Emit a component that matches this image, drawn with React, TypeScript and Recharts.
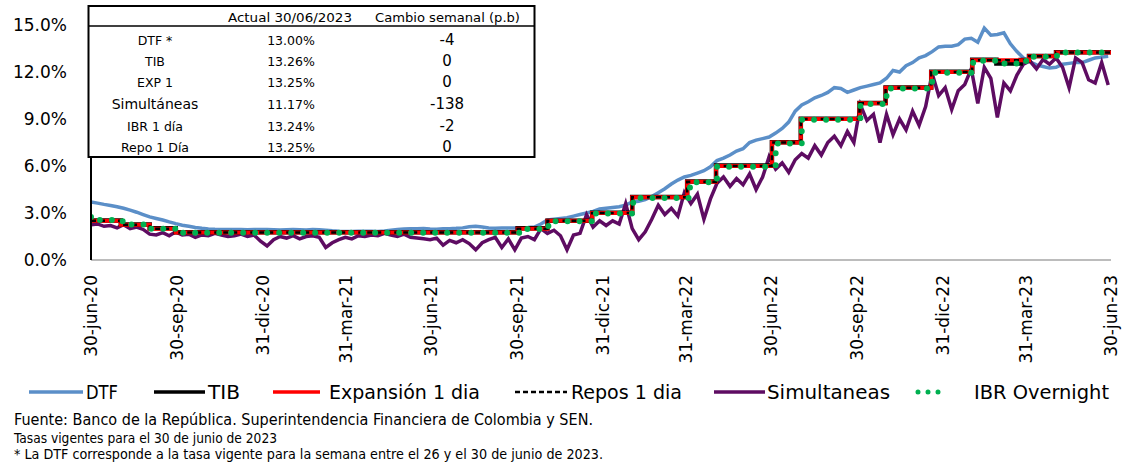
import { LineChart, Line, XAxis, YAxis, Legend } from "recharts";

const START = "2020-06-30";

const tickDates = [
  "2020-06-30", "2020-09-30", "2020-12-31", "2021-03-31", "2021-06-30", "2021-09-30", "2021-12-31",
  "2022-03-31", "2022-06-30", "2022-09-30", "2022-12-31", "2023-03-31", "2023-06-30",
];
const tickLabels = [
  "30-jun-20", "30-sep-20", "31-dic-20", "31-mar-21", "30-jun-21", "30-sep-21", "31-dic-21",
  "31-mar-22", "30-jun-22", "30-sep-22", "31-dic-22", "31-mar-23", "30-jun-23",
];
const yTicks = [0, 3, 6, 9, 12, 15];

// weekly observations from 30-jun-2020
const dtfWeekly = [
  3.7, 3.63, 3.55, 3.48, 3.4, 3.3, 3.18, 3.05, 2.9, 2.75,
  2.65, 2.55, 2.43, 2.32, 2.22, 2.15, 2.08, 2.02, 1.98, 1.96,
  1.95, 1.95, 1.94, 1.95, 1.93, 1.94, 1.95, 1.94, 1.93, 1.92,
  1.93, 1.94, 1.93, 1.92, 1.95, 1.93, 1.9, 1.86, 1.83, 1.82,
  1.82, 1.83, 1.84, 1.83, 1.82, 1.85, 1.9, 1.95, 1.98, 2.0,
  2.0, 2.01, 1.98, 1.97, 1.99, 2.0, 2.02, 2.05, 2.12, 2.15,
  2.1, 2.05, 2.03, 2.04, 2.05, 2.04, 2.05, 2.07, 2.1, 2.3,
  2.55, 2.6, 2.65, 2.7, 2.8, 2.9, 3.0, 3.1, 3.25, 3.3,
  3.35, 3.4, 3.5, 3.7, 3.75, 3.85, 4.05, 4.3, 4.55, 4.85,
  5.1, 5.3, 5.4, 5.55, 5.7, 5.95, 6.35, 6.5, 6.7, 6.95,
  7.1, 7.5, 7.65, 7.75, 7.85, 8.1, 8.4, 8.8, 9.5, 9.9,
  10.1, 10.35, 10.5, 10.7, 11.0, 10.95, 10.7, 10.85, 11.0, 11.1,
  11.2, 11.3, 11.6, 12.1, 12.0, 12.4, 12.6, 12.9, 13.05, 13.3,
  13.6, 13.65, 13.65, 13.75, 14.1, 14.15, 13.9, 14.8, 14.35, 14.4,
  14.5, 13.8, 13.3, 12.9, 12.65, 12.45, 12.35, 12.25, 12.3, 12.5,
  12.55, 12.6, 12.6, 12.75, 12.9, 12.95, 13.0,
];

const simultaneasWeekly = [
  2.25, 2.3, 2.15, 2.2, 2.05, 2.25, 2.0, 2.1, 1.95, 1.65,
  1.6, 1.75, 1.55, 1.8, 1.6, 1.65, 1.45, 1.6, 1.55, 1.7,
  1.6, 1.5, 1.55, 1.65, 1.5, 1.6, 1.2, 0.9, 1.3, 1.5,
  1.4, 1.55, 1.35, 1.5, 1.55, 1.45, 0.8, 1.1, 1.3, 1.45,
  1.35, 1.55, 1.5, 1.6, 1.55, 1.7, 1.6, 1.5, 1.65, 1.45,
  1.4, 1.35, 1.3, 1.4, 0.95, 1.25, 1.1, 1.3, 1.05, 0.65,
  1.1, 1.3, 1.45, 0.8, 1.35, 0.65, 1.4, 1.5, 1.3, 2.0,
  1.7, 1.9, 1.55, 0.65, 1.6, 1.7, 2.9, 2.1, 2.5, 2.2,
  2.5, 2.3, 3.6, 2.0, 1.3, 1.8, 2.6, 3.5, 2.9, 3.3,
  2.8, 4.3, 3.6, 4.2, 2.6, 3.9, 4.9, 5.3, 4.7, 5.2,
  4.8, 5.5, 4.5, 5.3, 6.6, 5.8, 6.2, 5.6, 6.4, 6.8,
  6.5, 7.3, 6.7, 7.5, 7.9, 7.3, 8.2, 7.5, 9.9, 8.9,
  9.3, 7.5, 9.3, 8.0, 9.0, 8.3, 9.5, 8.6, 9.8, 11.9,
  10.5, 11.0, 9.6, 10.8, 11.2, 12.2, 10.0, 12.3, 11.6, 9.1,
  11.3, 10.8, 11.8, 12.5, 12.7, 12.2, 12.8, 12.5, 12.9, 12.3,
  11.0, 12.9, 12.6, 11.5, 11.3, 12.6, 11.17,
];

// Expansión 1 día / Repos 1 día (policy rate)
const expansionDates = [
  "2020-06-30", "2020-08-01", "2020-09-01", "2020-09-29", "2021-10-01", "2021-11-02", "2021-12-20",
  "2022-02-01", "2022-04-01", "2022-05-02", "2022-07-01", "2022-08-01", "2022-10-03", "2022-10-31",
  "2022-12-19", "2023-02-01", "2023-04-03", "2023-05-02", "2023-06-30",
];
const expansionRates = [
  2.5, 2.25, 2.0, 1.75, 2.0, 2.5, 3.0,
  4.0, 5.0, 6.0, 7.5, 9.0, 10.0, 11.0,
  12.0, 12.75, 13.0, 13.25, 13.25,
];

const tibDates = [
  "2020-06-30", "2020-08-01", "2020-09-01", "2020-09-29", "2021-10-01", "2021-11-02", "2021-12-20",
  "2022-02-01", "2022-04-01", "2022-05-02", "2022-07-01", "2022-08-01", "2022-10-03", "2022-10-31",
  "2022-12-19", "2023-02-01", "2023-02-27", "2023-03-25", "2023-04-03", "2023-05-02", "2023-06-30",
];
const tibRates = [
  2.52, 2.27, 2.02, 1.77, 2.02, 2.51, 3.02,
  4.02, 5.01, 6.03, 7.52, 9.01, 10.02, 11.01,
  12.02, 12.78, 12.55, 12.76, 13.02, 13.26, 13.26,
];

const ibrDates = [
  "2020-06-30", "2020-07-02", "2020-08-03", "2020-09-02", "2020-09-30", "2021-10-04", "2021-11-03",
  "2021-12-21", "2022-02-02", "2022-04-04", "2022-05-03", "2022-07-05", "2022-08-02", "2022-10-04",
  "2022-11-01", "2022-12-20", "2023-02-02", "2023-03-01", "2023-03-24", "2023-04-04", "2023-05-03",
  "2023-06-30",
];
const ibrRates = [
  2.75, 2.55, 2.27, 2.0, 1.74, 1.98, 2.48,
  2.97, 3.95, 4.97, 5.96, 7.44, 8.96, 9.95,
  10.95, 11.95, 12.72, 12.55, 12.7, 12.98, 13.24,
  13.24,
];

const tableLabels = ["DTF *", "TIB", "EXP 1", "Simultáneas", "IBR 1 día", "Repo 1 Día"];
const tableValues = ["13.00%", "13.26%", "13.25%", "11.17%", "13.24%", "13.25%"];
const tableChanges = ["-4", "0", "0", "-138", "-2", "0"];

const footnotes = [
  "Fuente: Banco de la República. Superintendencia Financiera de Colombia y SEN.",
  "Tasas vigentes para el 30 de junio de 2023",
  "* La DTF corresponde a la tasa  vigente para la semana entre el 26 y el 30 de junio de 2023.",
];

const COLORS = {
  dtf: "#5b8fc8",
  tib: "#000000",
  exp: "#ff0000",
  repo: "#000000",
  sim: "#5e0c62",
  ibr: "#00b050",
};

const TICK_FONT = "'DejaVu Sans', Verdana, sans-serif";
const NOTE_FONT = "'Liberation Sans Narrow', 'DejaVu Sans Condensed', 'Liberation Sans', sans-serif";

function dayOf(date: string): number {
  return Math.round((Date.parse(date) - Date.parse(START)) / 86400000);
}

const tickDays = tickDates.map(dayOf);

function weekly(values: number[]) {
  return values.map((v, i) => ({ d: i * 7, v }));
}

function steps(dates: string[], rates: number[]) {
  return dates.map((date, i) => ({ d: dayOf(date), v: rates[i] }));
}

const dtfData = weekly(dtfWeekly);
const simData = weekly(simultaneasWeekly);
const expData = steps(expansionDates, expansionRates);
const tibData = steps(tibDates, tibRates);
const ibrData = steps(ibrDates, ibrRates);

function DateTick({ x, y, payload }: { x: number; y: number; payload: { value: number } }) {
  const idx = tickDays.indexOf(payload.value);
  return (
    <text
      x={x}
      y={y}
      transform={`rotate(-90 ${x} ${y})`}
      textAnchor="end"
      dy="0.36em"
      fontSize={17}
      fontFamily={TICK_FONT}
      fill="#000"
    >
      {idx >= 0 ? tickLabels[idx] : ""}
    </text>
  );
}

// legend layout: sample start/end and text start/width, in px
const legendLayout = [
  { name: "DTF", x1: 29, x2: 83, tx: 86, tw: 32, color: COLORS.dtf, dash: undefined, w: 3.5, cap: "butt" },
  { name: "TIB", x1: 154, x2: 205, tx: 208, tw: 32, color: COLORS.tib, dash: undefined, w: 3.5, cap: "butt" },
  { name: "Expansión 1 dia", x1: 273, x2: 320, tx: 329, tw: 151, color: COLORS.exp, dash: undefined, w: 3.5, cap: "butt" },
  { name: "Repos 1 dia", x1: 515, x2: 567, tx: 571, tw: 111, color: COLORS.repo, dash: "5 3", w: 2.5, cap: "butt" },
  { name: "Simultaneas", x1: 714, x2: 765, tx: 767, tw: 123, color: COLORS.sim, dash: undefined, w: 3.5, cap: "butt" },
  { name: "IBR Overnight", x1: 918, x2: 948, tx: 974, tw: 135, color: COLORS.ibr, dash: "0 10", w: 5, cap: "round" },
];

function LegendContent() {
  return (
    <svg width={1126} height={24} style={{ display: "block" }}>
      {legendLayout.map((item) => (
        <g key={item.name}>
          <line
            x1={item.x1}
            x2={item.x2}
            y1={12}
            y2={12}
            stroke={item.color}
            strokeWidth={item.w}
            strokeDasharray={item.dash}
            strokeLinecap={item.cap as "butt" | "round"}
          />
          <text
            x={item.tx}
            y={12}
            dy="0.36em"
            fontSize={19}
            fontFamily={NOTE_FONT}
            textLength={item.tw}
            lengthAdjust="spacingAndGlyphs"
            fill="#000"
          >
            {item.name}
          </text>
        </g>
      ))}
    </svg>
  );
}

const rowY = [40, 61, 82, 104, 126, 147];

function Overlay() {
  return (
    <svg width={1126} height={464} style={{ position: "absolute", left: 0, top: 0, pointerEvents: "none" }}>
      <rect x={88.5} y={6} width={446} height={151} fill="#fff" stroke="#000" strokeWidth={2} />
      <line x1={88.5} x2={534.5} y1={26} y2={26} stroke="#000" strokeWidth={1.5} />
      <text x={228} y={17} dy="0.35em" fontSize={13} fontFamily={NOTE_FONT} textLength={124} lengthAdjust="spacingAndGlyphs">
        Actual 30/06/2023
      </text>
      <text x={375} y={17} dy="0.35em" fontSize={13} fontFamily={NOTE_FONT} textLength={145} lengthAdjust="spacingAndGlyphs">
        Cambio semanal (p.b)
      </text>
      {tableLabels.map((label, i) => (
        <g key={label} fontFamily={TICK_FONT} fill="#000">
          <text x={155} y={rowY[i]} dy="0.36em" textAnchor="middle" fontSize={i === 3 ? 14 : 12.5}>
            {label}
          </text>
          <text x={291} y={rowY[i]} dy="0.36em" textAnchor="middle" fontSize={12.5}>
            {tableValues[i]}
          </text>
          <text x={447} y={rowY[i]} dy="0.36em" textAnchor="middle" fontSize={15}>
            {tableChanges[i]}
          </text>
        </g>
      ))}
      <text x={14} y={420} dy="0.35em" fontSize={15} fontFamily={NOTE_FONT} textLength={579} lengthAdjust="spacingAndGlyphs">
        {footnotes[0]}
      </text>
      <text x={14} y={438} dy="0.35em" fontSize={14} fontFamily={NOTE_FONT} textLength={263} lengthAdjust="spacingAndGlyphs">
        {footnotes[1]}
      </text>
      <text x={14} y={454} dy="0.35em" fontSize={14} fontFamily={NOTE_FONT} textLength={589} lengthAdjust="spacingAndGlyphs">
        {footnotes[2]}
      </text>
    </svg>
  );
}

export default function App() {
  return (
    <div style={{ position: "absolute", left: 0, top: 0, width: 1126, height: 464, background: "#fff", overflow: "hidden" }}>
      <LineChart width={1126} height={404} margin={{ top: 25, right: 15, left: 11, bottom: 0 }}>
        <XAxis
          type="number"
          dataKey="d"
          domain={[0, 1095]}
          ticks={tickDays}
          interval={0}
          tick={DateTick}
          tickLine={false}
          tickMargin={9}
          height={120}
          axisLine={{ stroke: "#a6a6a6", strokeWidth: 1.5 }}
          allowDataOverflow
        />
        <YAxis
          type="number"
          domain={[0, 15]}
          ticks={yTicks}
          interval={0}
          width={80}
          tickLine={false}
          tickMargin={18}
          tickFormatter={(v: number) => `${v.toFixed(1)}%`}
          tick={{ fontSize: 17, fill: "#000", fontFamily: TICK_FONT }}
          axisLine={{ stroke: "#000", strokeWidth: 2 }}
        />
        <Legend verticalAlign="bottom" height={24} content={LegendContent} wrapperStyle={{ left: 0, width: 1126 }} />
        <Line data={dtfData} dataKey="v" name="DTF" stroke={COLORS.dtf} strokeWidth={3.5} dot={false} activeDot={false} isAnimationActive={false} />
        <Line data={simData} dataKey="v" name="Simultaneas" stroke={COLORS.sim} strokeWidth={3.5} dot={false} activeDot={false} isAnimationActive={false} />
        <Line data={tibData} dataKey="v" name="TIB" type="stepAfter" stroke={COLORS.tib} strokeWidth={4.5} dot={false} activeDot={false} isAnimationActive={false} />
        <Line data={expData} dataKey="v" name="Expansión 1 dia" type="stepAfter" stroke={COLORS.exp} strokeWidth={4} dot={false} activeDot={false} isAnimationActive={false} />
        <Line data={expData} dataKey="v" name="Repos 1 dia" type="stepAfter" stroke={COLORS.repo} strokeWidth={2.5} strokeDasharray="5 4" dot={false} activeDot={false} isAnimationActive={false} />
        <Line data={ibrData} dataKey="v" name="IBR Overnight" type="stepAfter" stroke={COLORS.ibr} strokeWidth={6} strokeDasharray="0 12" strokeLinecap="round" dot={false} activeDot={false} isAnimationActive={false} />
      </LineChart>
      <Overlay />
    </div>
  );
}
